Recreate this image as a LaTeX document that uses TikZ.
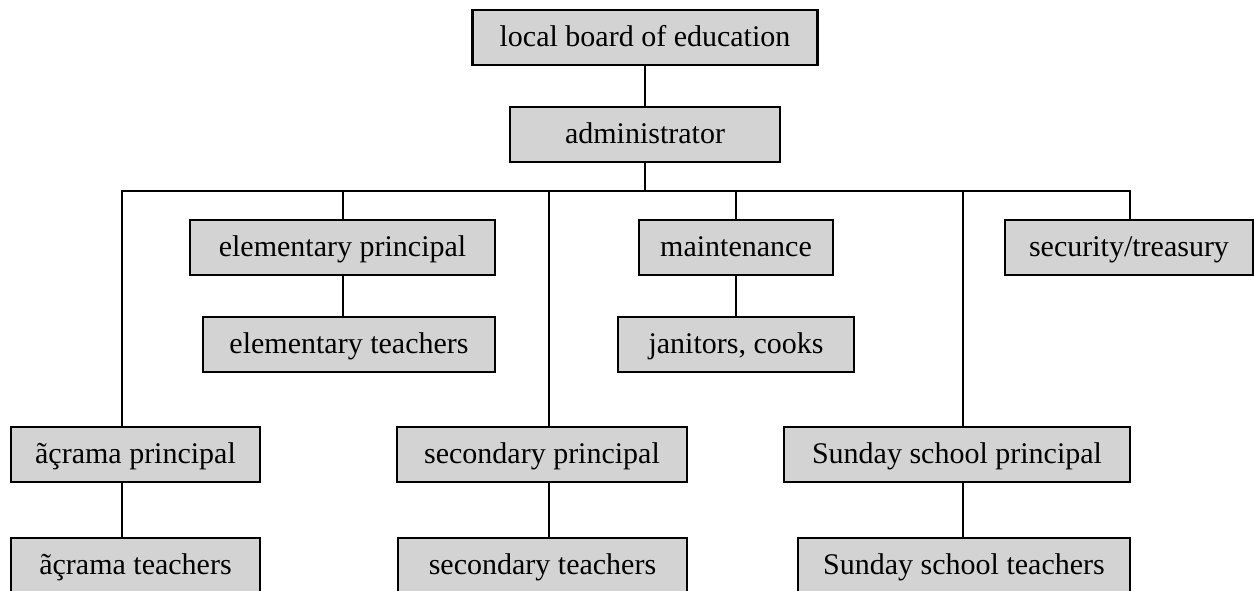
\documentclass[tikz,border=0pt]{standalone}
\usepackage{fontspec}
\setmainfont{Liberation Serif}
\definecolor{boxgray}{RGB}{211,211,211}
\tikzset{
	unit/.style={draw,fill=boxgray,line width=1.2pt,inner sep=0pt,
		minimum height=27.5pt,text height=11pt,text depth=2pt,
		font=\fontsize{15}{18}\selectfont},
	link/.style={line width=1pt}
}
\begin{document}
\begin{tikzpicture}[x=0.5pt,y=-0.5pt]
		\useasboundingbox (0,0) rectangle (1254,590);
		\node[unit,minimum width=172.5pt] (board) at (645,37.5) {local board of education};
		\node[unit,minimum width=135pt] (admin) at (645,134.5) {administrator};
		\node[unit,minimum width=152.5pt] (elemP) at (342.5,247.5) {elementary principal};
		\node[unit,minimum width=146pt] (elemT) at (349,344.5) {elementary teachers};
		\node[unit,minimum width=97pt] (maint) at (736,247.5) {maintenance};
		\node[unit,minimum width=118pt] (janit) at (736,344.5) {janitors, cooks};
		\node[unit,minimum width=124pt] (secur) at (1129,247.5) {security/treasury};
		\node[unit,minimum width=124.5pt] (acrP) at (135.5,454.5) {ãçrama principal};
		\node[unit,minimum width=124.5pt] (acrT) at (135.5,565.5) {ãçrama teachers};
		\node[unit,minimum width=145pt] (secP) at (542,454.5) {secondary principal};
		\node[unit,minimum width=144.5pt] (secT) at (542.5,565.5) {secondary teachers};
		\node[unit,minimum width=173pt] (sunP) at (957,454.5) {Sunday school principal};
		\node[unit,minimum width=166pt] (sunT) at (964,565.5) {Sunday school teachers};
		% bus under the administrator
		\coordinate (busL) at (122,191);
		\coordinate (busR) at (1130,191);
		\coordinate (dropS) at (549,191);
		\coordinate (dropU) at (963,191);
		\draw[link] (board.south) -- (admin.north);
		\draw[link] (admin.south) -- (admin.south |- busL);
		\draw[link] (busL |- acrP.north) -- (busL) -- (busR) -- (busR |- secur.north);
		\draw[link] (elemP.north |- busL) -- (elemP.north);
		\draw[link] (maint.north |- busL) -- (maint.north);
		\draw[link] (dropS) -- (dropS |- secP.north);
		\draw[link] (dropU) -- (dropU |- sunP.north);
		\draw[link] (elemP.south) -- (elemP.south |- elemT.north);
		\draw[link] (maint.south) -- (janit.north);
		\draw[link] (busL |- acrP.south) -- (busL |- acrT.north);
		\draw[link] (dropS |- secP.south) -- (dropS |- secT.north);
		\draw[link] (dropU |- sunP.south) -- (dropU |- sunT.north);
		\end{tikzpicture}
\end{document}
